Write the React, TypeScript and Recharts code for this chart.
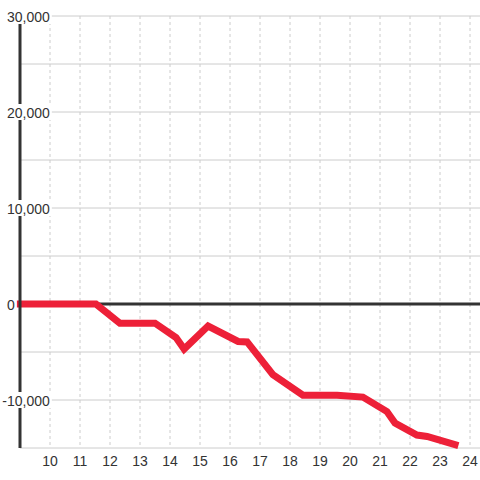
import { LineChart, Line, XAxis, YAxis, CartesianGrid, ReferenceLine } from "recharts";

const xValues = [9, 11.53, 12.33, 13.5, 14.2, 14.47, 15.27, 16.27, 16.57, 17.43, 18.43, 19.57, 20.43, 21.23, 21.5, 22.23, 22.57, 23.5];
const yValues = [0, 0, -2000, -2000, -3500, -4700, -2300, -3900, -3950, -7350, -9500, -9500, -9700, -11200, -12400, -13650, -13800, -14650];

const xTicks = [10, 11, 12, 13, 14, 15, 16, 17, 18, 19, 20, 21, 22, 23, 24];
const yTicks = [-15000, -10000, -5000, 0, 5000, 10000, 15000, 20000, 25000, 30000];
const xDomain: [number, number] = [9, 24.333];

const data = xValues.map((x, i) => ({ x, value: yValues[i] }));

const FONT = "'Liberation Sans', Arial, sans-serif";
const TEXT = "#333";

// rough Arial widths at 14px
function textWidth(s: string) {
  let w = 0;
  for (const c of s) {
    if (c === ",") w += 3.89;
    else if (c === "-") w += 4.66;
    else w += 7.79;
  }
  return w;
}

function YTick(props: any) {
  const { y, payload } = props;
  const v = payload.value as number;
  if (v % 10000 !== 0) return <g />;
  const label = v.toLocaleString("en-US");
  const left = v < 0 ? 7 - 4.66 : 7;
  const w = textWidth(label);
  return (
    <g>
      <rect x={0} y={y - 8} width={left + w + 2} height={16} fill="#fff" />
      <text x={left} y={y + 6} fill={TEXT} fontSize={14} fontFamily={FONT} textAnchor="start">
        {label}
      </text>
    </g>
  );
}

function XTick(props: any) {
  const { x, payload } = props;
  return (
    <text x={x} y={466} fill={TEXT} fontSize={14} fontFamily={FONT} textAnchor="middle">
      {payload.value}
    </text>
  );
}

function verticalLines({ xAxis, offset }: any) {
  if (xAxis && typeof xAxis.scale === "function") return xTicks.map((t) => xAxis.scale(t));
  const [d0, d1] = xDomain;
  return xTicks.map((t) => offset.left + ((t - d0) / (d1 - d0)) * offset.width);
}

export default function App() {
  return (
    <div style={{ position: "absolute", left: 0, top: 0, background: "#fff" }}>
      <LineChart width={480} height={480} data={data} margin={{ top: 16, right: 0, bottom: 0, left: 0 }}>
        <CartesianGrid
          horizontal={false}
          stroke="#ccc"
          strokeDasharray="3 3"
          verticalCoordinatesGenerator={verticalLines}
        />
        <CartesianGrid vertical={false} stroke="#ccc" />
        <XAxis
          dataKey="x"
          type="number"
          domain={xDomain}
          ticks={xTicks}
          interval={0}
          axisLine={false}
          tickLine={false}
          height={32}
          tick={<XTick />}
        />
        <YAxis
          type="number"
          domain={[-15000, 30000]}
          ticks={yTicks}
          interval={0}
          width={20}
          axisLine={{ stroke: "#333", strokeWidth: 3 }}
          tickLine={false}
          tick={<YTick />}
        />
        <ReferenceLine y={0} stroke="#333" strokeWidth={3} />
        <Line
          type="linear"
          dataKey="value"
          stroke="#ed2038"
          strokeWidth={7}
          strokeLinecap="square"
          dot={false}
          isAnimationActive={false}
        />
      </LineChart>
    </div>
  );
}
